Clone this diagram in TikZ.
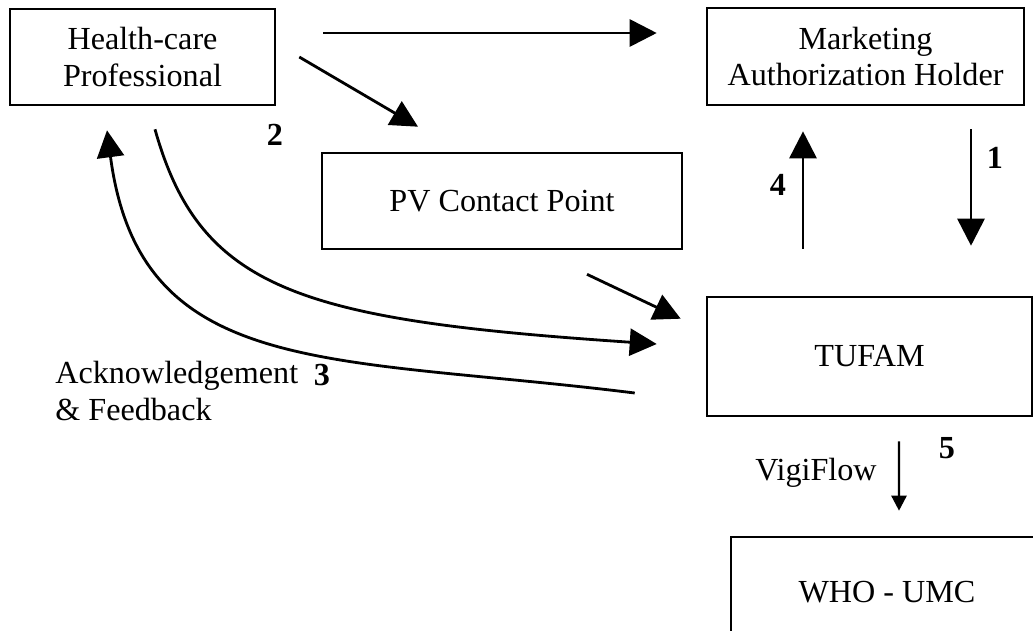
\documentclass[tikz,border=0pt]{standalone}
\usepackage{fontspec}
\setmainfont{Liberation Serif}
\usetikzlibrary{arrows.meta,calc}
\tikzset{
  txt/.style={font=\fontsize{18.3}{20.9}\selectfont},
  box/.style={txt,draw,line width=1.5pt,inner sep=0pt,align=center},
  num/.style={font=\fontsize{18.3}{20.9}\selectfont\bfseries},
  bigarr/.style={line width=1.6pt,-{Triangle[length=0.54cm,width=0.54cm]}},
  smallarr/.style={line width=1.4pt,-{Triangle[length=0.3cm,width=0.3cm]}}
}
\begin{document}
\begin{tikzpicture}[x=0.02cm,y=-0.02cm]
            \clip (0,0) rectangle (1033,630);
            % boxes
            \node[box,minimum width=5.3cm,minimum height=1.92cm] (hcp) at (142.5,57) {Health-care\\Professional};
            \node[box,minimum width=6.34cm,minimum height=1.94cm] (mah) at (865.5,56.5) {Marketing\\Authorization Holder};
            \node[box,minimum width=7.2cm,minimum height=1.92cm] (pv) at (502,201) {PV Contact Point};
            \node[box,minimum width=6.5cm,minimum height=2.38cm] (tufam) at (869.5,356.5) {TUFAM};
            \node[box,minimum width=6.24cm,minimum height=2.2cm] (who) at (887,592) {WHO - UMC};

            % labels
            \node[num] (n1) at (995,158) {1};
            \node[num] (n2) at (275,135) {2};
            \node[num] (n3) at (322,375) {3};
            \node[num] (n4) at (778,185) {4};
            \node[num] (n5) at (947,448) {5};
            \node[txt,anchor=base west,inner sep=0pt] (ack) at (55,383) {Acknowledgement};
            \node[txt,anchor=base west,inner sep=0pt] (fb) at (55,420) {\& Feedback};
            \node[txt,anchor=base west,inner sep=0pt] (vf) at (755,480) {VigiFlow};

            % connectors
            \draw[bigarr] ($(hcp.east)+(47,-24)$) -- ($(mah.west)+(-49,-23.5)$);
            \draw[bigarr] ($(hcp.east)+(23,0)$) -- ($(pv.north)+(-84,-25)$);
            \draw[bigarr] ($(pv.south)+(85,24)$) -- ($(tufam.north west)+(-25,23)$);
            \draw[bigarr] ($(hcp.south)+(12.5,23)$) .. controls (200,290) and (300,320) .. ($(tufam.west)+(-49,-12.5)$);
            \draw[bigarr] ($(tufam.west)+(-71,36.5)$) .. controls (330,355) and (140,380) .. ($(hcp.south)+(-35.5,24)$);
            \draw[bigarr] ($(mah.south)+(105.5,23)$) -- ($(tufam.north)+(101.5,-50)$);
            \draw[bigarr] ($(tufam.north)+(-66.5,-47)$) -- ($(mah.south)+(-62.5,25)$);
            \draw[smallarr] ($(tufam.south)+(29.5,24)$) -- ($(who.north)+(12,-25)$);
\end{tikzpicture}
\end{document}
